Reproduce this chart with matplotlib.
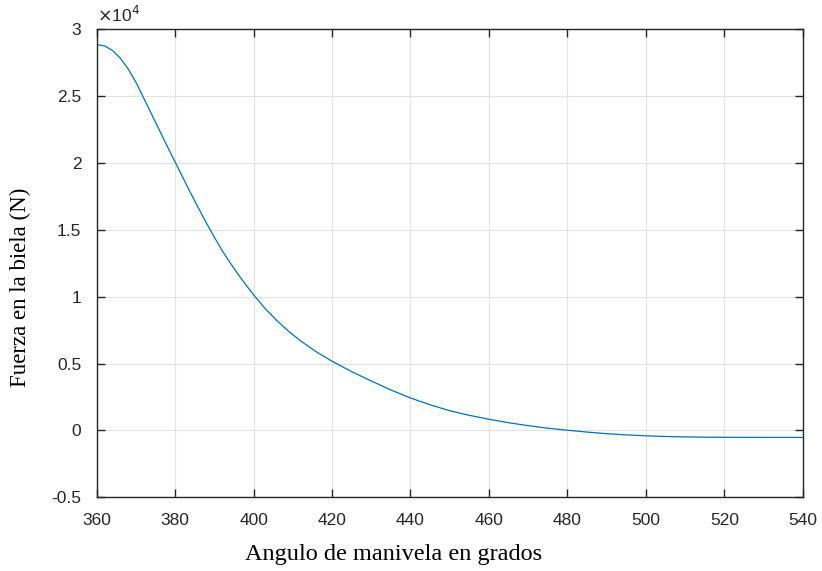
import matplotlib.pyplot as plt
from matplotlib.ticker import FuncFormatter

# angulo de manivela (grados) y fuerza en la biela (x10^4 N)
angulo = [360, 362, 364, 366, 368, 370, 372, 374, 376, 378, 380,
          382, 384, 386, 388, 390, 392, 394, 396, 398, 400,
          403, 406, 409, 412, 416, 420, 425, 430, 435, 440, 445, 450,
          455, 460, 465, 470, 475, 480, 485, 490, 495, 500,
          505, 510, 515, 520, 530, 540]
fuerza_e4 = [2.886, 2.876, 2.842, 2.785, 2.705, 2.605, 2.485, 2.365, 2.245, 2.125, 2.008,
             1.89, 1.773, 1.66, 1.55, 1.445, 1.345, 1.255, 1.17, 1.09, 1.015,
             0.91, 0.82, 0.74, 0.67, 0.588, 0.518, 0.44, 0.37, 0.303, 0.243, 0.192, 0.148,
             0.113, 0.084, 0.058, 0.036, 0.017, 0.002, -0.012, -0.024, -0.033, -0.040,
             -0.045, -0.048, -0.050, -0.051, -0.052, -0.052]
fuerza = [f * 1e4 for f in fuerza_e4]

xticks = [360, 380, 400, 420, 440, 460, 480, 500, 520, 540]
yticks = [-0.5, 0, 0.5, 1, 1.5, 2, 2.5, 3]

dark = '#262626'
fig = plt.figure(figsize=(8.22, 5.71), dpi=100)
ax = fig.add_axes([0.1176, 0.129, 0.859, 0.8197])

ax.plot(angulo, fuerza, color='#0072BD', lw=0.9)

ax.set_xlim(360, 540)
ax.set_ylim(-0.5e4, 3e4)
ax.set_xticks(xticks)
ax.set_yticks([t * 1e4 for t in yticks])
ax.yaxis.set_major_formatter(FuncFormatter(lambda v, p: '%g' % (v / 1e4)))

ax.grid(True, color='#e2e2e2', lw=0.8)
ax.set_axisbelow(True)
for s in ax.spines.values():
    s.set_color(dark)
    s.set_linewidth(1.0)
ax.tick_params(direction='in', top=True, right=True, length=6, width=1.0,
               color=dark, labelcolor=dark, labelsize=12.5)
ax.tick_params(axis='x', pad=11)
ax.tick_params(axis='y', pad=11)
for lab in ax.get_xticklabels() + ax.get_yticklabels():
    lab.set_family('Liberation Sans')

ax.text(0.0, 1.01, r'$\times$10$^4$', transform=ax.transAxes, fontsize=12.5,
        color=dark, family='Liberation Sans', ha='left', va='bottom')

ax.set_xlabel('Angulo de manivela en grados', family='Liberation Serif',
              fontsize=17.5, labelpad=10)
ax.set_ylabel('Fuerza en la biela (N)', family='Liberation Serif',
              fontsize=16.5, labelpad=13)
ax.xaxis.set_label_coords(0.42, -0.1)
ax.yaxis.set_label_coords(-0.093, 0.449)

plt.savefig('out.png', dpi=100)
